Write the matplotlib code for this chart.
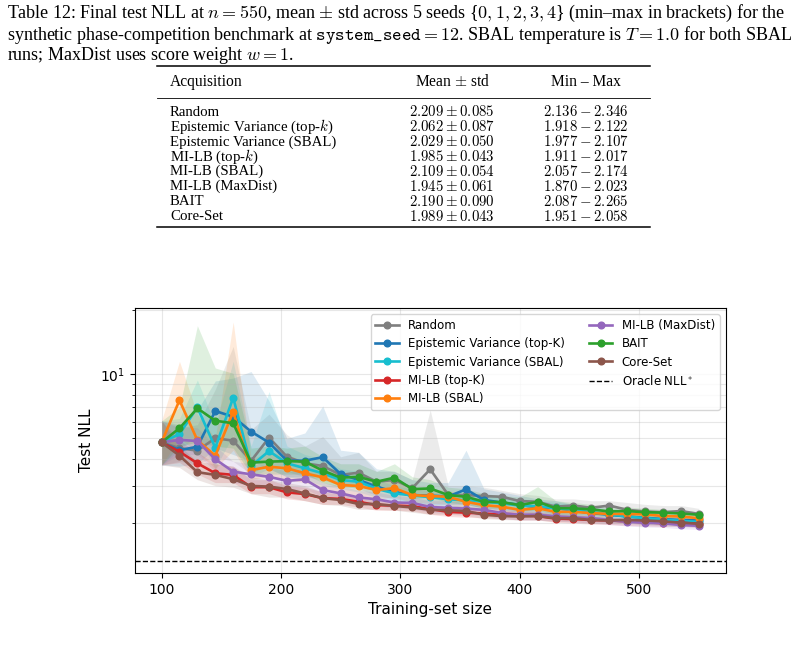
import matplotlib
matplotlib.use('Agg')
import matplotlib.pyplot as plt
from matplotlib.lines import Line2D

plt.rcParams['mathtext.fontset'] = 'cm'

# ---- table data (final test NLL at n = 550) ----
methods = ['Random', 'Epistemic Variance (top-$k$)', 'Epistemic Variance (SBAL)',
           'MI-LB (top-$k$)', 'MI-LB (SBAL)', 'MI-LB (MaxDist)', 'BAIT', 'Core-Set']
tab_mean = ['2.209', '2.062', '2.029', '1.985', '2.109', '1.945', '2.190', '1.989']
tab_std = ['0.085', '0.087', '0.050', '0.043', '0.054', '0.061', '0.090', '0.043']
tab_min = ['2.136', '1.918', '1.977', '1.911', '2.057', '1.870', '2.087', '1.951']
tab_max = ['2.346', '2.122', '2.107', '2.017', '2.174', '2.023', '2.265', '2.058']
best_row = 5

# ---- curve data ----
sizes = list(range(100, 551, 15))
oracle_nll = 1.33

random_mean = [4.79, 4.50, 4.38, 5.01, 4.88, 3.92, 5.04, 4.10, 3.82, 3.71, 3.37, 3.45, 3.13, 3.19, 2.92, 3.58,
               2.72, 2.71, 2.68, 2.66, 2.54, 2.52, 2.39, 2.42, 2.36, 2.42, 2.31, 2.27, 2.25, 2.28, 2.209]
random_lo = [3.75, 3.9, 3.8, 4.1, 3.9, 3.4, 3.8, 3.5, 3.3, 3.2, 3.0, 3.0, 2.85, 2.85, 2.7, 2.7,
             2.55, 2.55, 2.5, 2.45, 2.4, 2.38, 2.3, 2.3, 2.28, 2.27, 2.22, 2.2, 2.18, 2.17, 2.136]
random_hi = [6.04, 5.6, 5.8, 8.5, 13.5, 5.5, 6.5, 5.2, 4.6, 5.1, 4.1, 4.3, 3.5, 3.5, 3.2, 6.8,
             3.0, 3.0, 2.95, 2.85, 2.75, 2.7, 2.6, 2.6, 2.55, 2.55, 2.5, 2.45, 2.42, 2.42, 2.346]

evtop_mean = [4.79, 4.40, 4.57, 6.72, 6.32, 5.38, 4.78, 3.93, 3.93, 4.08, 3.40, 3.19, 2.97, 2.80, 2.71, 2.69,
              2.67, 2.88, 2.57, 2.50, 2.44, 2.37, 2.36, 2.29, 2.23, 2.19, 2.15, 2.12, 2.09, 2.07, 2.062]
evtop_lo = [3.75, 3.7, 3.8, 4.5, 4.2, 3.9, 3.6, 3.3, 3.3, 3.3, 3.0, 2.9, 2.7, 2.6, 2.5, 2.45,
            2.45, 2.45, 2.35, 2.3, 2.25, 2.2, 2.15, 2.1, 2.05, 2.02, 2.0, 1.97, 1.95, 1.93, 1.918]
evtop_hi = [6.04, 5.8, 6.8, 9.3, 9.6, 10.3, 7.5, 5.0, 5.3, 7.1, 4.4, 4.3, 3.6, 3.5, 3.2, 3.1,
            3.1, 4.4, 2.9, 2.8, 2.7, 2.6, 2.55, 2.45, 2.4, 2.35, 2.3, 2.25, 2.2, 2.15, 2.122]

evsbal_mean = [4.79, 5.24, 7.00, 4.52, 7.76, 3.71, 4.36, 3.82, 3.62, 3.43, 3.19, 3.13, 2.90, 2.76, 2.70, 2.65,
               2.59, 2.56, 2.52, 2.48, 2.42, 2.40, 2.35, 2.31, 2.25, 2.20, 2.15, 2.11, 2.08, 2.05, 2.029]
evsbal_lo = [3.75, 4.4, 5.2, 3.6, 5.2, 3.3, 3.6, 3.3, 3.2, 3.0, 2.9, 2.8, 2.65, 2.55, 2.5, 2.45,
             2.4, 2.38, 2.35, 2.3, 2.25, 2.22, 2.2, 2.15, 2.12, 2.08, 2.05, 2.02, 2.0, 1.99, 1.977]
evsbal_hi = [6.04, 6.2, 9.4, 5.8, 11.5, 4.6, 8.3, 4.6, 4.2, 4.0, 3.6, 3.5, 3.2, 3.0, 2.9, 2.9,
             2.8, 2.75, 2.7, 2.65, 2.6, 2.55, 2.5, 2.45, 2.38, 2.3, 2.25, 2.2, 2.17, 2.13, 2.107]

miltop_mean = [4.79, 4.33, 3.82, 3.43, 3.37, 2.95, 2.95, 2.79, 2.74, 2.62, 2.60, 2.52, 2.43, 2.42, 2.40, 2.33,
               2.26, 2.24, 2.22, 2.19, 2.17, 2.16, 2.10, 2.09, 2.07, 2.06, 2.04, 2.02, 2.00, 2.01, 1.985]
miltop_lo = [3.75, 3.85, 3.4, 3.1, 3.1, 2.75, 2.75, 2.6, 2.55, 2.45, 2.45, 2.38, 2.3, 2.3, 2.28, 2.2,
             2.15, 2.13, 2.12, 2.1, 2.07, 2.07, 2.02, 2.0, 1.98, 1.97, 1.95, 1.94, 1.93, 1.93, 1.911]
miltop_hi = [6.04, 4.9, 4.3, 3.8, 3.7, 3.2, 3.2, 3.0, 2.95, 2.8, 2.75, 2.65, 2.55, 2.55, 2.5, 2.45,
             2.38, 2.35, 2.32, 2.3, 2.27, 2.25, 2.2, 2.17, 2.15, 2.12, 2.1, 2.08, 2.05, 2.05, 2.017]

milsbal_mean = [4.79, 7.55, 4.90, 4.15, 6.67, 3.55, 3.68, 3.62, 3.43, 3.28, 3.02, 2.99, 2.86, 2.92, 2.71, 2.68,
                2.66, 2.52, 2.43, 2.39, 2.31, 2.35, 2.26, 2.26, 2.23, 2.21, 2.21, 2.20, 2.16, 2.15, 2.109]
milsbal_lo = [3.75, 5.0, 4.3, 3.6, 4.4, 3.2, 3.3, 3.2, 3.1, 2.95, 2.75, 2.7, 2.6, 2.65, 2.5, 2.48,
              2.45, 2.33, 2.27, 2.25, 2.18, 2.2, 2.13, 2.13, 2.11, 2.1, 2.1, 2.08, 2.07, 2.06, 2.057]
milsbal_hi = [6.04, 11.5, 6.5, 5.0, 17.6, 4.0, 4.3, 4.2, 3.9, 3.6, 3.4, 3.35, 3.1, 3.2, 2.95, 2.9,
              2.85, 2.7, 2.6, 2.55, 2.5, 2.5, 2.4, 2.38, 2.35, 2.32, 2.3, 2.28, 2.22, 2.2, 2.174]

maxdist_mean = [4.79, 4.92, 4.86, 3.99, 3.49, 3.39, 3.30, 3.16, 3.21, 2.86, 2.76, 2.64, 2.59, 2.50, 2.49, 2.38,
                2.36, 2.34, 2.31, 2.23, 2.19, 2.19, 2.15, 2.13, 2.11, 2.07, 2.03, 2.01, 2.00, 1.96, 1.945]
maxdist_lo = [3.75, 4.2, 4.2, 3.5, 3.1, 3.0, 2.95, 2.85, 2.9, 2.65, 2.55, 2.45, 2.42, 2.35, 2.33, 2.25,
              2.22, 2.2, 2.17, 2.1, 2.07, 2.07, 2.05, 2.02, 2.0, 1.97, 1.94, 1.92, 1.91, 1.88, 1.870]
maxdist_hi = [6.04, 5.7, 5.6, 4.6, 3.9, 3.8, 3.7, 3.5, 3.5, 3.1, 3.0, 2.85, 2.8, 2.7, 2.65, 2.55,
              2.55, 2.5, 2.45, 2.38, 2.32, 2.3, 2.25, 2.22, 2.2, 2.15, 2.12, 2.1, 2.07, 2.04, 2.023]

bait_mean = [4.79, 5.58, 6.92, 6.05, 5.89, 3.85, 3.89, 3.91, 3.89, 3.53, 3.27, 3.30, 3.13, 3.27, 2.89, 2.91,
             2.71, 2.66, 2.52, 2.51, 2.43, 2.52, 2.35, 2.35, 2.32, 2.27, 2.28, 2.25, 2.24, 2.22, 2.190]
bait_lo = [3.75, 4.6, 4.8, 4.6, 4.5, 3.4, 3.4, 3.4, 3.4, 3.1, 2.95, 2.95, 2.85, 2.9, 2.6, 2.65,
           2.5, 2.45, 2.35, 2.35, 2.28, 2.3, 2.2, 2.2, 2.18, 2.15, 2.15, 2.13, 2.12, 2.1, 2.087]
bait_hi = [6.04, 7.0, 16.9, 10.7, 10.1, 4.5, 4.6, 4.5, 4.6, 4.1, 3.8, 3.8, 3.5, 3.8, 3.3, 3.2,
           2.95, 2.9, 2.75, 2.7, 2.65, 2.97, 2.55, 2.5, 2.45, 2.4, 2.38, 2.35, 2.32, 2.3, 2.265]

coreset_mean = [4.79, 4.15, 3.47, 3.37, 3.22, 2.99, 2.97, 2.89, 2.76, 2.62, 2.57, 2.46, 2.46, 2.41, 2.37, 2.31,
                2.30, 2.28, 2.19, 2.16, 2.15, 2.16, 2.11, 2.11, 2.07, 2.06, 2.07, 2.06, 2.04, 2.01, 1.989]
coreset_lo = [3.75, 3.65, 3.2, 3.0, 2.95, 2.75, 2.65, 2.65, 2.55, 2.45, 2.42, 2.32, 2.32, 2.3, 2.25, 2.2,
              2.2, 2.17, 2.1, 2.08, 2.07, 2.07, 2.03, 2.03, 2.0, 1.99, 1.99, 1.98, 1.97, 1.96, 1.951]
coreset_hi = [6.04, 4.6, 3.9, 3.8, 3.7, 3.3, 3.2, 3.1, 3.0, 2.8, 2.75, 2.6, 2.6, 2.55, 2.5, 2.45,
              2.42, 2.4, 2.3, 2.28, 2.25, 2.25, 2.2, 2.2, 2.15, 2.13, 2.12, 2.1, 2.08, 2.06, 2.058]

curves = [
    ('Random', '#7f7f7f', random_mean, random_lo, random_hi),
    ('Epistemic Variance (top-K)', '#1f77b4', evtop_mean, evtop_lo, evtop_hi),
    ('Epistemic Variance (SBAL)', '#17becf', evsbal_mean, evsbal_lo, evsbal_hi),
    ('MI-LB (top-K)', '#d62728', miltop_mean, miltop_lo, miltop_hi),
    ('MI-LB (SBAL)', '#ff7f0e', milsbal_mean, milsbal_lo, milsbal_hi),
    ('MI-LB (MaxDist)', '#9467bd', maxdist_mean, maxdist_lo, maxdist_hi),
    ('BAIT', '#2ca02c', bait_mean, bait_lo, bait_hi),
    ('Core-Set', '#8c564b', coreset_mean, coreset_lo, coreset_hi),
]

W, H = 806.0, 647.0
fig = plt.figure(figsize=(W / 100, H / 100), dpi=100)

def fx(x):
    return x / W

def fy(y):
    return 1 - y / H

# caption
serif = 'Liberation Serif'
cap_fs = 13.0
fig.text(fx(7), fy(13), 'Table 12: Final test NLL at $n = 550$, mean $\\pm$ std across 5 seeds '
         '{$0, 1, 2, 3, 4$} (min\u2013max in brackets) for the',
         family=serif, fontsize=cap_fs, va='center', ha='left')
fig.text(fx(7), fy(35), 'synthetic phase-competition benchmark at $\\mathtt{system\\_seed} = 12$. '
         'SBAL temperature is $T = 1.0$ for both SBAL',
         family=serif, fontsize=cap_fs, va='center', ha='left')
fig.text(fx(7), fy(56), 'runs; MaxDist uses score weight $w = 1$.',
         family=serif, fontsize=cap_fs, va='center', ha='left')

# table
tab_fs = 10.7
fig.add_artist(Line2D([fx(157), fx(650)], [fy(66), fy(66)], color='black', lw=1.1))
fig.add_artist(Line2D([fx(157), fx(650)], [fy(97.5), fy(97.5)], color='black', lw=0.6))
fig.add_artist(Line2D([fx(157), fx(650)], [fy(227), fy(227)], color='black', lw=1.1))
fig.text(fx(170), fy(82), 'Acquisition', family=serif, fontsize=tab_fs + 0.5, va='center', ha='left')
fig.text(fx(452), fy(82), 'Mean $\\pm$ std', family=serif, fontsize=tab_fs + 0.5, va='center', ha='center')
fig.text(fx(586), fy(82), 'Min \u2013 Max', family=serif, fontsize=tab_fs + 0.5, va='center', ha='center')
for i, name in enumerate(methods):
    yy = fy(112 + 14.9 * i)
    fig.text(fx(170), yy, name, family=serif, fontsize=tab_fs, va='center', ha='left')
    if i == best_row:
        ms = '$\\mathbf{%s \\pm %s}$' % (tab_mean[i], tab_std[i])
    else:
        ms = '$%s \\pm %s$' % (tab_mean[i], tab_std[i])
    fig.text(fx(452), yy, ms, fontsize=tab_fs, va='center', ha='center')
    fig.text(fx(586), yy, '$%s - %s$' % (tab_min[i], tab_max[i]),
             fontsize=tab_fs, va='center', ha='center')

# chart
ax = fig.add_axes([fx(134.7), fy(573), (725.7 - 134.7) / W, (573 - 308.3) / H])
for label, color, mean, lo, hi in curves:
    ax.fill_between(sizes, lo, hi, color=color, alpha=0.15, lw=0)
for label, color, mean, lo, hi in curves:
    ax.plot(sizes, mean, '-o', color=color, lw=1.9, ms=4.8, label=label)
ax.axhline(oracle_nll, color='black', ls='--', lw=1.0, label='Oracle NLL$^*$')

ax.set_yscale('log')
ax.set_xlim(77.5, 572.5)
ax.set_ylim(1.167, 20.4)
ax.set_xticks([100, 200, 300, 400, 500])
ax.grid(True, which='both', alpha=0.3)
ax.set_xlabel('Training-set size', fontsize=11)
ax.set_ylabel('Test NLL', fontsize=11)
ax.tick_params(labelsize=10)
ax.legend(ncol=2, loc='upper right', fontsize=8.5, labelspacing=0.45)

fig.savefig('out.png', dpi=100)
